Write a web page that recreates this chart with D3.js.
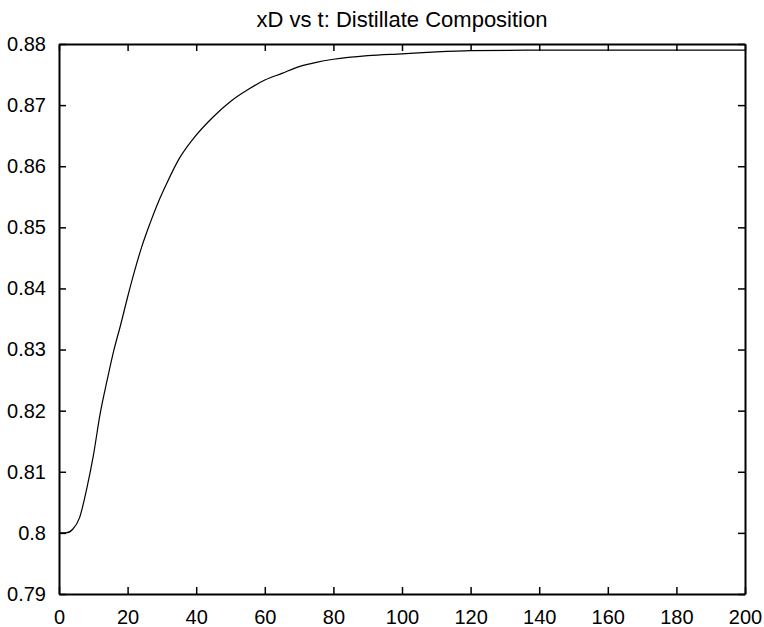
<!DOCTYPE html>
<html>
<head>
<meta charset="utf-8">
<script src="https://cdn.jsdelivr.net/npm/d3@7"></script>
<style>
  body { margin: 0; background: #fff; }
  svg text { font-family: "Liberation Sans", Arial, sans-serif; fill: #000; }
  .axis path, .axis line { stroke: #000; }
</style>
</head>
<body>
<svg id="chart" width="764" height="627"></svg>
<script>
// distillate composition xD over time t
var tVals  = [0, 2, 4, 6, 8, 10, 12, 14, 16, 18, 20, 22, 24, 26.5, 29, 31.5, 35, 39, 45, 50, 55, 60, 65, 70, 75, 80, 90, 100, 110, 120, 140, 160, 180, 200];
var xDVals = [0.8, 0.8, 0.8006, 0.8025, 0.807, 0.8126, 0.8195, 0.8249, 0.8299, 0.8341, 0.8386, 0.8428, 0.8466, 0.8506, 0.8542, 0.8573, 0.8612, 0.8644, 0.8681, 0.8706, 0.8725, 0.8741, 0.8752, 0.8763, 0.877, 0.8775, 0.8781, 0.8784, 0.8787, 0.8789, 0.879, 0.879, 0.879, 0.879];
var xTicks = [0, 20, 40, 60, 80, 100, 120, 140, 160, 180, 200];
var yTicks = [0.79, 0.8, 0.81, 0.82, 0.83, 0.84, 0.85, 0.86, 0.87, 0.88];
var title = "xD vs t: Distillate Composition";

var data = tVals.map(function(t, i) { return {t: t, xd: xDVals[i]}; });

var svg = d3.select("#chart"),
  margin = {top: 44, right: 19, bottom: 33, left: 59},
  width = +svg.attr("width") - margin.left - margin.right,
  height = +svg.attr("height") - margin.top - margin.bottom,
  g = svg.append("g").attr("transform", "translate(" + margin.left + "," + margin.top + ")");

var x = d3.scaleLinear().domain([0, 200]).range([0, width]);
var y = d3.scaleLinear().domain([0.79, 0.88]).range([height, 0]);

var tickLen = 7;

// bottom + left with labels, top + right mirrored without labels
g.append("g")
  .attr("class", "axis")
  .attr("transform", "translate(0," + height + ")")
  .call(d3.axisBottom(x).tickValues(xTicks).tickSizeInner(-tickLen).tickSizeOuter(0).tickPadding(16).tickFormat(d3.format("d")));

g.append("g")
  .attr("class", "axis")
  .call(d3.axisLeft(y).tickValues(yTicks).tickSizeInner(-tickLen).tickSizeOuter(0).tickPadding(13).tickFormat(function(d) { return d3.format(".2f")(d).replace(/0$/, ""); }));

g.append("g")
  .attr("class", "axis")
  .call(d3.axisTop(x).tickValues(xTicks).tickSizeInner(-tickLen).tickSizeOuter(0).tickFormat(""));

g.append("g")
  .attr("class", "axis")
  .attr("transform", "translate(" + width + ",0)")
  .call(d3.axisRight(y).tickValues(yTicks).tickSizeInner(-tickLen).tickSizeOuter(0).tickFormat(""));

g.selectAll(".axis path").attr("stroke-width", 2);
g.selectAll(".axis line").attr("stroke-width", 1.5);
g.selectAll(".axis text").style("font-size", "20px");

var line = d3.line()
  .curve(d3.curveMonotoneX)
  .x(function(d) { return x(d.t); })
  .y(function(d) { return y(d.xd); });

g.append("path")
  .datum(data)
  .attr("fill", "none")
  .attr("stroke", "#000")
  .attr("stroke-width", 1.2)
  .attr("d", line);

svg.append("text")
  .attr("x", margin.left + width / 2)
  .attr("y", 27)
  .attr("text-anchor", "middle")
  .style("font-size", "22px")
  .text(title);
</script>
</body>
</html>
